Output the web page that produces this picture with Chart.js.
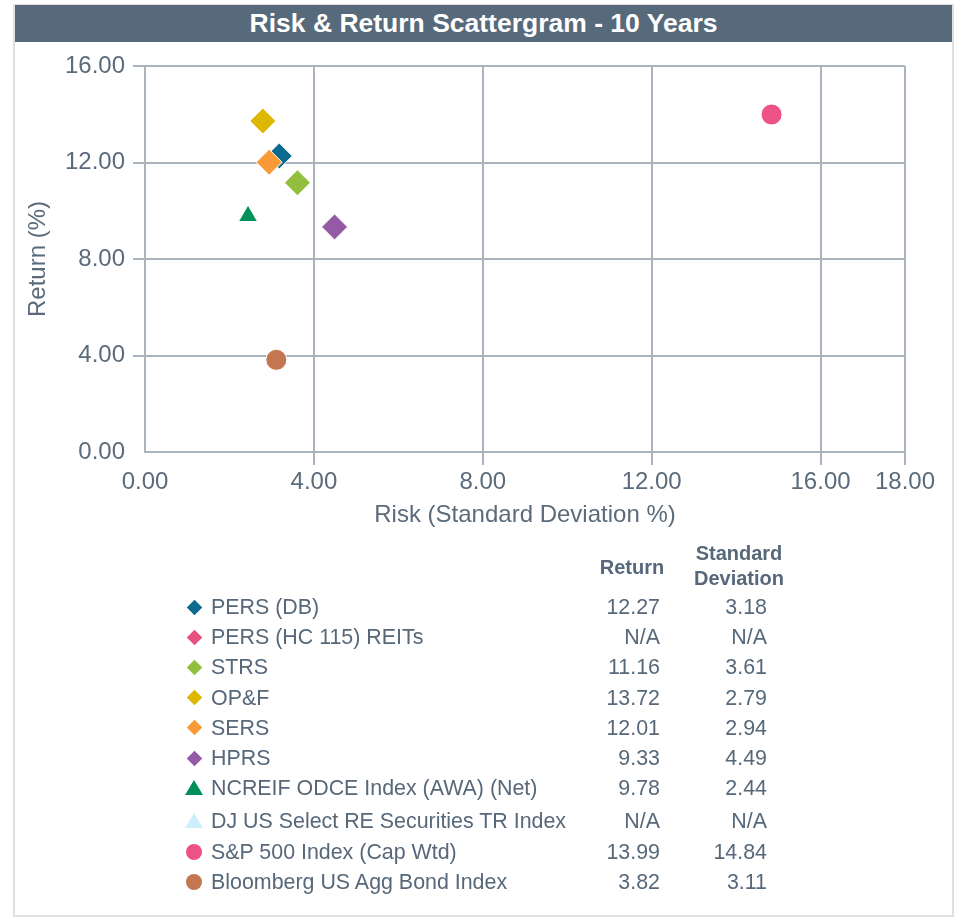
<!DOCTYPE html>
<html>
<head>
<meta charset="utf-8">
<script src="https://cdn.jsdelivr.net/npm/chart.js@4/dist/chart.umd.min.js"></script>
<style>
  html, body { margin: 0; padding: 0; background: #fff; }
  body { width: 961px; height: 917px; position: relative; overflow: hidden;
         font-family: "Liberation Sans", Arial, sans-serif; color: #56687a; }
  #frame { position: absolute; left: 13px; top: 4px; width: 941px; height: 913px;
           border: 2px solid #e0e0e0; box-sizing: border-box; }
  #title { position: absolute; left: 15px; top: 5px; width: 937px; height: 37px;
           background: #576a7b; color: #fff; font-weight: bold; font-size: 26.5px;
           line-height: 37px; text-align: center; }
  #plot { position: absolute; left: 0; top: 42px; width: 961px; height: 500px; }
  #legend { position: absolute; left: 0; top: 0; width: 961px; height: 917px; pointer-events: none; }
  .lg { position: absolute; font-size: 21.4px; white-space: nowrap; line-height: 24px; }
  .hd { font-weight: bold; font-size: 20px; text-align: center; line-height: 25px; }
  .num { text-align: right; width: 120px; }
  .mk { position: absolute; }
</style>
</head>
<body>
<div id="frame"></div>
<div id="title">Risk &amp; Return Scattergram - 10 Years</div>
<div id="plot"><canvas id="chart" width="961" height="500"></canvas></div>
<div id="legend"></div>
<script>
// series, in legend order
const names = [
    'PERS (DB)',
    'PERS (HC 115) REITs',
    'STRS',
    'OP&F',
    'SERS',
    'HPRS',
    'NCREIF ODCE Index (AWA) (Net)',
    'DJ US Select RE Securities TR Index',
    'S&P 500 Index (Cap Wtd)',
    'Bloomberg US Agg Bond Index'
];
const returns = [12.27, null, 11.16, 13.72, 12.01, 9.33, 9.78, null, 13.99, 3.82];
const stdDevs = [3.18, null, 3.61, 2.79, 2.94, 4.49, 2.44, null, 14.84, 3.11];

const colors = ['#0d6a8f', '#e8507f', '#92c03e', '#ddb700', '#f99a38',
                '#955aa5', '#00915b', '#cdeffb', '#ec5284', '#c47651'];
const shapes = ['rectRot', 'rectRot', 'rectRot', 'rectRot', 'rectRot',
                'rectRot', 'triangle', 'triangle', 'circle', 'circle'];

const xTicks = [0, 4, 8, 12, 16, 18];
const yTicks = [0, 4, 8, 12, 16];

const gridColor = '#a9b4bf';
const textColor = '#5b6b7b';
const font = 'Liberation Sans, Arial, sans-serif';

function pointSize(shape) {
    if (shape === 'rectRot') return 13;
    if (shape === 'triangle') return 11;
    return 10.5;
}

// later series are painted over earlier ones (SERS sits over PERS)
const datasets = names.map((name, i) => ({
    label: name,
    data: returns[i] === null ? [] : [{ x: stdDevs[i], y: returns[i] }],
    order: names.length - i,
    pointStyle: shapes[i],
    pointRadius: pointSize(shapes[i]),
    backgroundColor: colors[i],
    borderColor: '#ffffff',
    borderWidth: 1,
    showLine: false
}));

const tickMark = ctx => (ctx.tick && ctx.tick.value === 0) ? 'rgba(0,0,0,0)' : gridColor;

new Chart(document.getElementById('chart'), {
    type: 'scatter',
    data: { datasets: datasets },
    options: {
        responsive: false,
        animation: false,
        devicePixelRatio: 1,
        layout: { padding: { top: 24, right: 56, left: 0, bottom: 0 } },
        plugins: {
            legend: { display: false },
            tooltip: { enabled: false },
            title: { display: false }
        },
        scales: {
            x: {
                type: 'linear',
                min: 0,
                max: 18,
                afterBuildTicks: s => { s.ticks = xTicks.map(v => ({ value: v })); },
                afterFit: s => { s.height = 90; },
                grid: { color: gridColor, lineWidth: 2, tickLength: 13, tickColor: tickMark, tickWidth: 2 },
                border: { color: gridColor, width: 2 },
                ticks: {
                    autoSkip: false,
                    maxRotation: 0,
                    padding: 3,
                    color: textColor,
                    font: { family: font, size: 24 },
                    callback: v => Number(v).toFixed(2)
                },
                title: {
                    display: true,
                    text: 'Risk (Standard Deviation %)',
                    color: textColor,
                    font: { family: font, size: 24 },
                    padding: { top: 0, bottom: 12.6 }
                }
            },
            y: {
                type: 'linear',
                min: 0,
                max: 16,
                afterBuildTicks: s => { s.ticks = yTicks.map(v => ({ value: v })); },
                afterFit: s => { s.width = 145; },
                grid: { color: gridColor, lineWidth: 2, tickLength: 12, tickColor: tickMark, tickWidth: 2 },
                border: { color: gridColor, width: 2 },
                ticks: {
                    padding: 8,
                    color: textColor,
                    font: { family: font, size: 24 },
                    callback: v => Number(v).toFixed(2)
                },
                title: {
                    display: true,
                    text: 'Return (%)',
                    color: textColor,
                    font: { family: font, size: 24 },
                    padding: { top: 23.6, bottom: 0 }
                }
            }
        }
    }
});

// legend table below the plot
const legend = document.getElementById('legend');

function addText(text, left, top, cls, extra) {
    const el = document.createElement('div');
    el.className = 'lg ' + (cls || '');
    el.textContent = text;
    el.style.left = left + 'px';
    el.style.top = top + 'px';
    if (extra) Object.assign(el.style, extra);
    legend.appendChild(el);
    return el;
}

function addMarker(shape, color, cx, cy) {
    const m = document.createElement('div');
    m.className = 'mk';
    if (shape === 'rectRot') {
        Object.assign(m.style, { width: '11px', height: '11px', background: color,
            left: (cx - 5.5) + 'px', top: (cy - 5.5) + 'px', transform: 'rotate(45deg)' });
    } else if (shape === 'triangle') {
        Object.assign(m.style, { width: 0, height: 0, borderLeft: '9px solid transparent',
            borderRight: '9px solid transparent', borderBottom: '15px solid ' + color,
            left: (cx - 9) + 'px', top: (cy - 8) + 'px' });
    } else {
        Object.assign(m.style, { width: '16px', height: '16px', borderRadius: '50%', background: color,
            left: (cx - 8) + 'px', top: (cy - 8) + 'px' });
    }
    legend.appendChild(m);
}

addText('Return', 572, 555, 'hd', { width: '120px' });
addText('Standard', 679, 541, 'hd', { width: '120px' });
addText('Deviation', 679, 566, 'hd', { width: '120px' });

names.forEach((name, i) => {
    const cy = 607 + i * 30.2 + (i >= 7 ? 3 : 0);
    addMarker(shapes[i], colors[i], 194, cy);
    addText(name, 211, cy - 12);
    addText(returns[i] === null ? 'N/A' : returns[i].toFixed(2), 540, cy - 12, 'num');
    addText(stdDevs[i] === null ? 'N/A' : stdDevs[i].toFixed(2), 647, cy - 12, 'num');
});
</script>
</body>
</html>
